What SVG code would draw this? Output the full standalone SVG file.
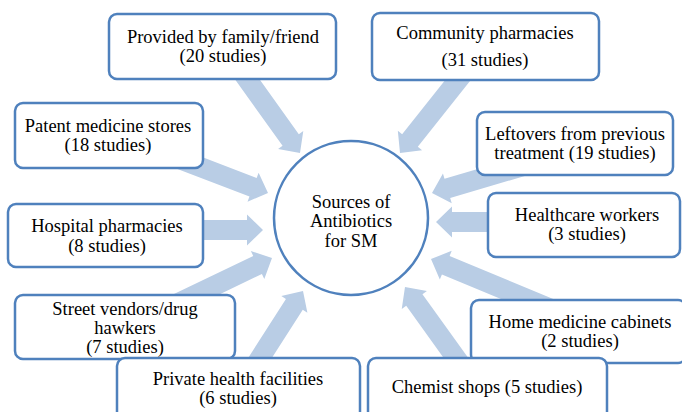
<svg xmlns="http://www.w3.org/2000/svg" width="682" height="412" viewBox="0 0 682 412">
  <style>
    .box { fill: #ffffff; stroke: #4f81bd; stroke-width: 2.5; }
    .hub { fill: #ffffff; stroke: #4f81bd; stroke-width: 2.5; }
    .arrow { fill: #b9cde5; stroke: none; }
    text { font-family: "Liberation Serif", "Times New Roman", serif; font-size: 18.5px; fill: #000000; text-anchor: middle; }
  </style>
  <rect width="682" height="412" fill="#ffffff"/>

  <!-- block arrows: local frame points along +x, tip at origin -->
  <g id="connectors">
    <path class="arrow" transform="translate(300,153) rotate(54.4)" d="M-120,-10 H-16 V-15.5 L0,0 L-16,15.5 V10 H-120 Z"/>
    <path class="arrow" transform="translate(400,153) rotate(128.5)" d="M-120,-10 H-16 V-15.5 L0,0 L-16,15.5 V10 H-120 Z"/>
    <path class="arrow" transform="translate(432,193) rotate(163.5)" d="M-100,-10 H-16 V-15.5 L0,0 L-16,15.5 V10 H-100 Z"/>
    <path class="arrow" transform="translate(436,222) rotate(180)" d="M-80,-10 H-16 V-15.5 L0,0 L-16,15.5 V10 H-80 Z"/>
    <path class="arrow" transform="translate(431,259) rotate(202.6)" d="M-140,-10 H-16 V-15.5 L0,0 L-16,15.5 V10 H-140 Z"/>
    <path class="arrow" transform="translate(405,287) rotate(234.3)" d="M-110,-10 H-16 V-15.5 L0,0 L-16,15.5 V10 H-110 Z"/>
    <path class="arrow" transform="translate(303,291) rotate(-57.3)" d="M-105,-10 H-16 V-15.5 L0,0 L-16,15.5 V10 H-105 Z"/>
    <path class="arrow" transform="translate(272,258) rotate(-25.7)" d="M-115,-10 H-16 V-15.5 L0,0 L-16,15.5 V10 H-115 Z"/>
    <path class="arrow" transform="translate(263,230) rotate(0)" d="M-85,-10 H-16 V-15.5 L0,0 L-16,15.5 V10 H-85 Z"/>
    <path class="arrow" transform="translate(268,193) rotate(21)" d="M-110,-10 H-16 V-15.5 L0,0 L-16,15.5 V10 H-110 Z"/>
  </g>

  <g id="hub">
    <circle class="hub" cx="351" cy="218" r="77"/>
    <text x="351" y="208">Sources of</text>
    <text x="351" y="227">Antibiotics</text>
    <text x="351" y="247">for SM</text>
  </g>

  <g id="family-friend">
    <rect class="box" x="109" y="14" width="227" height="65" rx="8"/>
    <text x="223" y="43">Provided by family/friend</text>
    <text x="223" y="62">(20 studies)</text>
  </g>

  <g id="community-pharmacies">
    <rect class="box" x="372" y="13" width="227" height="67" rx="8"/>
    <text x="485" y="39">Community pharmacies</text>
    <text x="485" y="66">(31 studies)</text>
  </g>

  <g id="leftovers">
    <rect class="box" x="477" y="112" width="196" height="63" rx="8"/>
    <text x="575" y="140">Leftovers from previous</text>
    <text x="575" y="159">treatment (19 studies)</text>
  </g>

  <g id="patent-medicine-stores">
    <rect class="box" x="15" y="103" width="188" height="65" rx="8"/>
    <text x="108" y="132">Patent medicine stores</text>
    <text x="108" y="151">(18 studies)</text>
  </g>

  <g id="hospital-pharmacies">
    <rect class="box" x="8" y="204" width="195" height="63" rx="8"/>
    <text x="107" y="232">Hospital pharmacies</text>
    <text x="107" y="252">(8 studies)</text>
  </g>

  <g id="healthcare-workers">
    <rect class="box" x="488" y="193" width="192" height="64" rx="8"/>
    <text x="587" y="221">Healthcare workers</text>
    <text x="587" y="240">(3 studies)</text>
  </g>

  <g id="street-vendors">
    <rect class="box" x="15" y="295" width="220" height="64" rx="8"/>
    <text x="125" y="315">Street vendors/drug</text>
    <text x="125" y="334">hawkers</text>
    <text x="125" y="353">(7 studies)</text>
  </g>

  <g id="private-health-facilities">
    <rect class="box" x="117" y="358" width="243" height="70" rx="8"/>
    <text x="238" y="385">Private health facilities</text>
    <text x="238" y="404">(6 studies)</text>
  </g>

  <g id="home-medicine-cabinets">
    <rect class="box" x="471" y="300" width="215" height="63" rx="8"/>
    <text x="580" y="328">Home medicine cabinets</text>
    <text x="580" y="347">(2 studies)</text>
  </g>

  <g id="chemist-shops">
    <rect class="box" x="368" y="358" width="239" height="70" rx="8"/>
    <text x="487" y="393">Chemist shops (5 studies)</text>
  </g>
</svg>
